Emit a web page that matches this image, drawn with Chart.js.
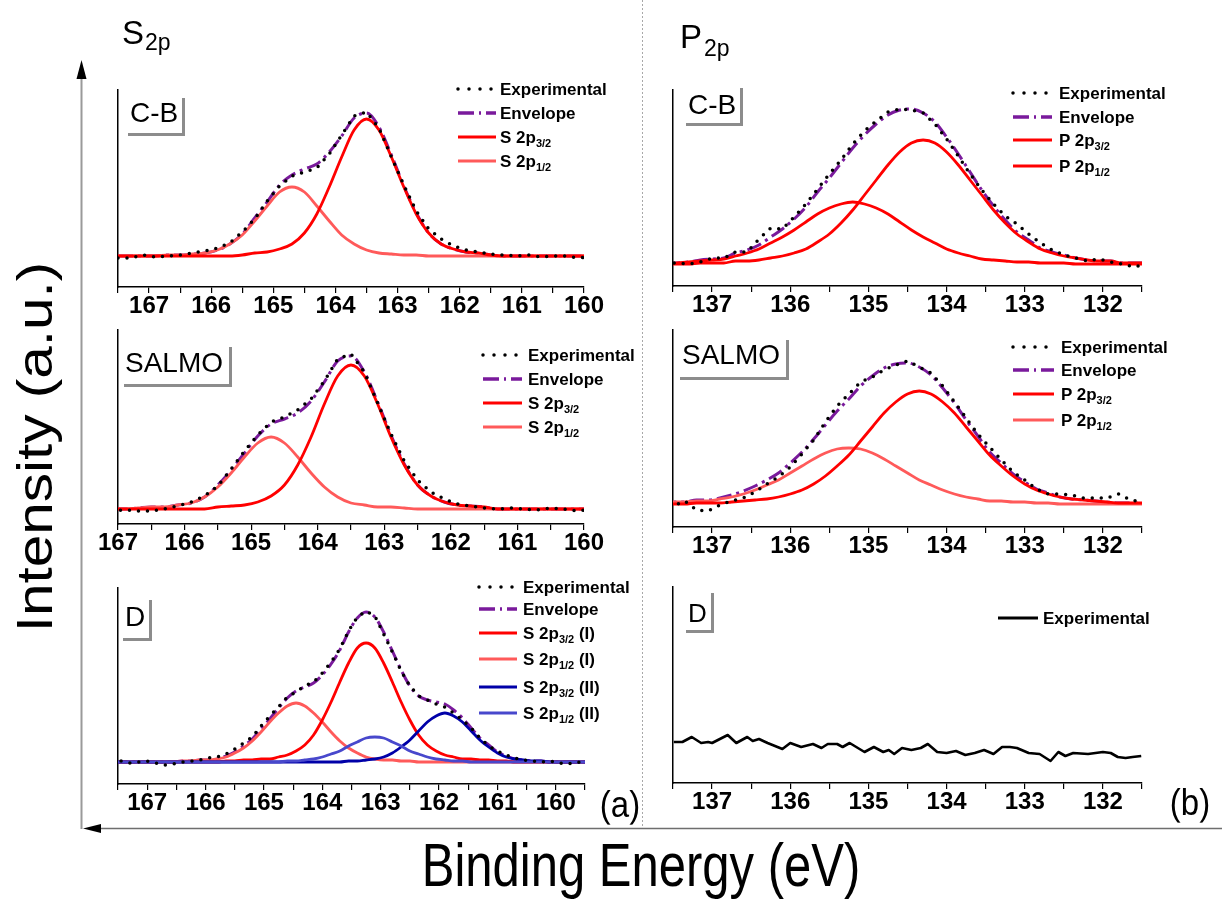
<!DOCTYPE html>
<html>
<head>
<meta charset="utf-8">
<script src="https://cdn.jsdelivr.net/npm/chart.js@4.4.0/dist/chart.umd.min.js"></script>
<style>
  body { margin: 0; background: #fff; font-family: 'Liberation Sans', Arial, sans-serif; }
  #lienzo { position: relative; width: 1222px; height: 904px; overflow: hidden; background: #fff; }
  .txt { position: absolute; line-height: 1; white-space: nowrap; color: #000; }
  .caja { position: absolute; border-right: 3px solid #8c8c8c; border-bottom: 3px solid #8c8c8c; box-sizing: border-box; }
  .ley { position: absolute; font-size: 17px; font-weight: bold; line-height: 1; white-space: nowrap; color: #000; }
  .ley sub { font-size: 11px; vertical-align: -4px; line-height: 0; }
</style>
</head>
<body>
<div id="lienzo">
  <svg width="1222" height="904" style="position:absolute;left:0;top:0">
    <line x1="642.5" y1="0" x2="642.5" y2="827" stroke="#a8a8a8" stroke-width="1" stroke-dasharray="2 2"/>
    <line x1="81.5" y1="829" x2="81.5" y2="74" stroke="#9a9a9a" stroke-width="2"/>
    <polygon points="81.5,60 76.5,79 86.5,79" fill="#000"/>
    <line x1="96" y1="828.5" x2="1222" y2="828.5" stroke="#6e6e6e" stroke-width="1.5"/>
    <polygon points="83,828.5 101,824 101,833" fill="#000"/>
  </svg>
</div>
<script>
// ---- S 2p : energias de enlace (eV) ----
const energiaS = [167.5,167.3,167.1,166.9,166.7,166.5,166.3,166.1,165.9,165.7,165.5,165.3,165.1,164.9,164.7,164.5,164.3,164.1,163.9,163.7,163.5,163.3,163.1,162.9,162.7,162.5,162.3,162.1,161.9,161.7,161.5,161.3,161.1,160.9,160.7,160.5,160.3,160.1,159.9];
const energiaSD = [167.6,167.45,167.3,167.15,167.0,166.85,166.7,166.55,166.4,166.25,166.1,165.95,165.8,165.65,165.5,165.35,165.2,165.05,164.9,164.75,164.6,164.45,164.3,164.15,164.0,163.85,163.7,163.55,163.4,163.25,163.1,162.95,162.8,162.65,162.5,162.35,162.2,162.05,161.9,161.75,161.6,161.45,161.3,161.15,161.0,160.85,160.7,160.55,160.4,160.25,160.1,159.95,159.8,159.65,159.5];

// C-B
const expCB_S = [-2,-2,1,-1,0,1,3,5,8,13,24,37,55,70,80,84,88,102,121,140,144,128,99,71,45,27,17,10,6,4,2,1,0,1,-1,0,0,-2,-1];
const envCB_S = [0,0,0,0,1,1,2,3,6,12,22,38,54,71,81,87,92,104,120,138,143,129,101,70,43,23,12,7,4,3,1,0,0,0,0,0,0,0,0];
const s32CB = [0,0,0,0,0,0,0,0,0,0,1,3,4,7,12,23,42,69,99,126,137,126,99,69,42,23,12,7,4,3,1,0,0,0,0,0,0,0,0];
const s12CB = [0,0,0,0,1,1,2,3,6,12,21,35,50,64,69,64,50,35,21,12,6,3,2,1,1,0,0,0,0,0,0,0,0,0,0,0,0,0,0];

// SALMO
const expSALMO_S = [-1,0,-2,-1,-2,-2,0,3,7,13,23,40,58,74,87,92,99,110,128,150,155,137,106,75,48,29,17,10,5,3,1,0,1,0,-1,1,0,-2,0];
const envSALMO_S = [0,0,0,0,1,2,2,4,6,12,24,39,56,73,85,90,96,108,127,148,153,137,107,74,45,24,13,7,4,3,2,0,0,0,0,0,0,0,0];
const s32SALMO = [0,0,0,0,0,0,0,0,0,0,2,3,4,7,13,24,44,72,105,133,144,133,105,72,44,24,13,7,4,3,2,0,0,0,0,0,0,0,0];
const s12SALMO = [0,0,0,0,1,2,2,4,6,12,22,36,52,66,72,66,52,36,22,12,6,4,2,2,1,0,0,0,0,0,0,0,0,0,0,0,0,0,0];

// D
const expD_S = [0,1,-1,0,1,-1,-3,-2,0,1,2,4,5,8,13,19,25,36,46,55,65,70,76,80,89,100,113,131,145,151,146,128,110,91,76,66,62,58,55,49,42,34,24,16,11,7,4,2,1,0,1,-1,-2,0,-1];
const envD_S = [0,0,0,0,0,0,0,0,1,1,2,2,3,6,10,16,23,33,43,54,64,71,75,79,87,98,112,130,144,150,145,130,111,92,76,66,62,60,58,52,44,34,24,17,10,6,3,2,1,1,0,0,0,0,0];
const s32I = [0,0,0,0,0,0,0,0,0,0,0,0,0,1,1,2,2,3,3,5,7,11,17,27,42,60,80,99,114,119,114,99,80,60,42,27,17,11,7,5,3,3,2,2,1,1,0,0,0,0,0,0,0,0,0];
const s12I = [0,0,0,0,0,0,0,0,1,1,2,2,3,5,9,14,21,30,40,49,56,59,56,49,40,30,21,14,9,5,3,2,2,1,1,0,0,0,0,0,0,0,0,0,0,0,0,0,0,0,0,0,0,0,0];
const s32II = [0,0,0,0,0,0,0,0,0,0,0,0,0,0,0,0,0,0,0,0,0,0,0,0,0,0,0,1,1,2,3,5,9,15,22,31,40,46,49,46,40,31,22,15,9,5,3,2,1,1,0,0,0,0,0];
const s12II = [0,0,0,0,0,0,0,0,0,0,0,0,0,0,0,0,0,0,0,0,1,1,2,3,5,8,11,16,20,24,25,24,20,16,11,8,5,3,2,1,1,0,0,0,0,0,0,0,0,0,0,0,0,0,0];

// ---- P 2p ----
const energiaPCB = [137.6,137.45,137.3,137.15,137.0,136.85,136.7,136.55,136.4,136.25,136.1,135.95,135.8,135.65,135.5,135.35,135.2,135.05,134.9,134.75,134.6,134.45,134.3,134.15,134.0,133.85,133.7,133.55,133.4,133.25,133.1,132.95,132.8,132.65,132.5,132.35,132.2,132.05,131.9,131.75,131.6,131.45];
const expCB_P = [1,1,0,2,6,6,12,12,25,36,35,47,60,75,90,104,120,133,143,152,155,154,151,140,125,108,90,74,60,48,40,30,21,14,9,6,3,5,2,0,-3,0];
const envCB_P = [0,1,2,4,5,6,11,14,19,27,35,45,57,72,86,101,116,129,140,149,154,155,151,142,127,110,92,74,58,44,32,24,16,12,9,6,4,3,3,1,1,1];
const p32CB = [0,0,0,1,1,1,3,3,4,6,8,11,15,22,30,41,54,69,84,99,112,121,124,121,112,99,84,69,54,41,30,22,15,11,8,6,4,3,3,1,1,1];
const p12CB = [0,1,2,3,4,5,8,11,15,21,27,34,42,50,56,60,62,60,56,50,42,34,27,21,15,11,8,5,4,3,2,2,1,1,1,0,0,0,0,0,0,0];

const energiaPSALMO = [137.65,137.5,137.35,137.2,137.05,136.9,136.75,136.6,136.45,136.3,136.15,136.0,135.85,135.7,135.55,135.4,135.25,135.1,134.95,134.8,134.65,134.5,134.35,134.2,134.05,133.9,133.75,133.6,133.45,133.3,133.15,133.0,132.85,132.7,132.55,132.4,132.25,132.1,131.95,131.8,131.65,131.5];
const expSALMO_P = [-5,-2,3,-6,-7,-1,3,6,12,20,27,37,50,64,82,98,110,122,127,134,139,143,137,131,118,102,86,70,57,44,32,24,15,10,10,9,6,6,6,10,4,2];
const envSALMO_P = [1,2,2,4,4,6,9,13,18,24,31,41,52,65,79,93,105,118,128,136,140,141,137,129,116,101,84,68,52,41,30,22,15,11,7,5,4,3,2,1,1,1];
const p32SALMO = [0,0,0,1,1,1,2,3,4,5,7,10,14,20,28,38,49,63,77,91,102,110,113,110,102,91,77,63,49,38,28,20,14,10,7,5,4,3,2,1,1,1];
const p12SALMO = [1,2,2,3,3,5,7,10,14,19,24,31,38,45,51,55,56,55,51,45,38,31,24,19,14,10,7,5,3,3,2,2,1,1,0,0,0,0,0,0,0,0];

const energiaPD = [137.49,137.38,137.26,137.14,137.05,137.0,136.8,136.69,136.55,136.48,136.4,136.29,136.1,136.0,135.86,135.71,135.6,135.52,135.4,135.33,135.24,135.05,134.93,134.81,134.74,134.67,134.57,134.45,134.33,134.24,134.12,134.0,133.88,133.76,133.64,133.52,133.4,133.29,133.19,133.1,132.95,132.81,132.67,132.57,132.48,132.38,132.19,132.0,131.9,131.81,131.71,131.62,131.51];
const expD_P = [41,41,46,40,41,40,48,40,46,42,44,40,34,40,36,39,35,39,39,36,40,31,36,31,33,29,35,33,35,39,31,30,32,28,30,33,29,36,36,35,30,29,22,31,27,30,29,31,30,26,25,26,27];

// colores
const ROJO = '#ff0000';
const ROSA = '#ff5a5a';
const MORADO = '#7a1a9c';
const AZUL = '#0000a8';
const AZUL_CLARO = '#4848cc';
const FUENTE = "'Liberation Sans', Arial, sans-serif";

Chart.defaults.font.family = FUENTE;

const lienzo = document.getElementById('lienzo');

function puntos(energia, valores) {
  return energia.map((e, i) => ({ x: e, y: valores[i] }));
}

function lineaExp(energia, valores) {
  return { data: puntos(energia, valores), borderColor: '#000', borderWidth: 3.5,
    borderDash: [0, 9], borderCapStyle: 'round', tension: 0 };
}
function lineaEnv(energia, valores) {
  return { data: puntos(energia, valores), borderColor: MORADO, borderWidth: 3,
    borderDash: [15, 5, 3, 5], cubicInterpolationMode: 'monotone' };
}
function lineaPico(energia, valores, color) {
  return { data: puntos(energia, valores), borderColor: color, borderWidth: 2.8,
    cubicInterpolationMode: 'monotone', borderJoinStyle: 'round' };
}

// Crear un panel: r = area del grafico en la pagina
function crearPanel(r, xMin, xMax, yMin, yMax, datasets) {
  const canvas = document.createElement('canvas');
  const w = (r.der - r.izq) + 60;
  const h = (r.abajo - r.arriba) + 50;
  canvas.width = w;
  canvas.height = h;
  canvas.style.cssText = 'position:absolute;left:' + (r.izq - 30) + 'px;top:' + (r.arriba - 10) + 'px;width:' + w + 'px;height:' + h + 'px';
  lienzo.appendChild(canvas);

  new Chart(canvas.getContext('2d'), {
    type: 'line',
    data: { datasets: datasets },
    options: {
      responsive: false,
      animation: false,
      devicePixelRatio: 1,
      layout: { padding: { left: 30, right: 30, top: 10, bottom: 4 } },
      plugins: { legend: { display: false }, tooltip: { enabled: false } },
      elements: { point: { radius: 0 } },
      scales: {
        x: {
          type: 'linear', reverse: true, min: xMin, max: xMax,
          border: { display: true, color: '#000', width: 1.5 },
          grid: { display: true, drawOnChartArea: false, drawTicks: true, tickLength: 6, color: '#000', lineWidth: 1.2 },
          ticks: {
            stepSize: 0.5, autoSkip: false, maxRotation: 0, padding: 1, color: '#000',
            font: { family: FUENTE, size: 24, weight: 'bold', lineHeight: 1 },
            callback: v => Math.abs(v - Math.round(v)) < 0.01 ? Math.round(v) : ''
          },
          afterFit: s => { s.height = 36; }
        },
        y: {
          min: yMin, max: yMax,
          border: { display: true, color: '#000', width: 1.5 },
          grid: { display: false },
          ticks: { display: false },
          afterFit: s => { s.width = 0; }
        }
      }
    }
  });
}

// Texto absoluto
function texto(html, left, top, size, extra) {
  const d = document.createElement('div');
  d.className = 'txt';
  d.style.cssText = 'left:' + left + 'px;top:' + top + 'px;font-size:' + size + 'px;' + (extra || '');
  d.innerHTML = html;
  lienzo.appendChild(d);
  return d;
}

// Etiqueta de muestra con sombra gris
function etiqueta(t, x, capTop, tam, caja) {
  const c = document.createElement('div');
  c.className = 'caja';
  c.style.cssText = 'left:' + caja[0] + 'px;top:' + caja[1] + 'px;width:' + (caja[2] - caja[0]) + 'px;height:' + (caja[3] - caja[1]) + 'px';
  lienzo.appendChild(c);
  texto(t, x, capTop - 0.13 * tam, tam);
}

// Leyenda dibujada a mano (por los subindices)
const estExp = { color: '#000', ancho: 3.5, guion: '0 11', cap: 'round' };
const estEnv = { color: MORADO, ancho: 3.5, guion: '16 5 2 5', cap: 'butt' };
function estSolido(color) { return { color: color, ancho: 3, guion: 'none', cap: 'butt' }; }

function leyenda(x0, x1, xTexto, filas) {
  filas.forEach(f => {
    const e = f.estilo;
    const s = document.createElementNS('http://www.w3.org/2000/svg', 'svg');
    s.setAttribute('width', x1 - x0);
    s.setAttribute('height', 12);
    s.style.cssText = 'position:absolute;left:' + x0 + 'px;top:' + (f.y - 6) + 'px';
    s.innerHTML = '<line x1="2" y1="6" x2="' + (x1 - x0 - 2) + '" y2="6" stroke="' + e.color + '" stroke-width="' + e.ancho +
      '" stroke-dasharray="' + e.guion + '" stroke-linecap="' + e.cap + '"/>';
    lienzo.appendChild(s);
    const d = document.createElement('div');
    d.className = 'ley';
    d.style.left = xTexto + 'px';
    d.style.top = (f.y - 8.5) + 'px';
    d.innerHTML = f.texto;
    lienzo.appendChild(d);
  });
}

// ---- Paneles S 2p (a) ----
crearPanel({ izq: 118, der: 584, arriba: 90, abajo: 287 }, 160, 167.5, -31, 166, [
  lineaExp(energiaS, expCB_S),
  lineaPico(energiaS, s32CB, ROJO),
  lineaPico(energiaS, s12CB, ROSA),
  lineaEnv(energiaS, envCB_S)
]);
crearPanel({ izq: 118, der: 584, arriba: 330, abajo: 524 }, 160, 167, -15, 179, [
  lineaExp(energiaS, expSALMO_S),
  lineaPico(energiaS, s32SALMO, ROJO),
  lineaPico(energiaS, s12SALMO, ROSA),
  lineaEnv(energiaS, envSALMO_S)
]);
crearPanel({ izq: 118, der: 585, arriba: 588, abajo: 784 }, 159.5, 167.5, -22, 174, [
  lineaExp(energiaSD, expD_S),
  lineaPico(energiaSD, s12II, AZUL_CLARO),
  lineaPico(energiaSD, s32II, AZUL),
  lineaPico(energiaSD, s32I, ROJO),
  lineaPico(energiaSD, s12I, ROSA),
  lineaEnv(energiaSD, envD_S)
]);

// ---- Paneles P 2p (b) ----
crearPanel({ izq: 673, der: 1142, arriba: 90, abajo: 286 }, 131.5, 137.5, -22, 174, [
  lineaExp(energiaPCB, expCB_P),
  lineaPico(energiaPCB, p32CB, ROJO),
  lineaPico(energiaPCB, p12CB, ROJO),
  lineaEnv(energiaPCB, envCB_P)
]);
crearPanel({ izq: 673, der: 1142, arriba: 330, abajo: 527 }, 131.5, 137.5, -23, 174, [
  lineaExp(energiaPSALMO, expSALMO_P),
  lineaPico(energiaPSALMO, p32SALMO, ROJO),
  lineaPico(energiaPSALMO, p12SALMO, ROSA),
  lineaEnv(energiaPSALMO, envSALMO_P)
]);
crearPanel({ izq: 673, der: 1142, arriba: 587, abajo: 783 }, 131.5, 137.5, 0, 196, [
  { data: puntos(energiaPD, expD_P), borderColor: '#000', borderWidth: 2.6, tension: 0, borderJoinStyle: 'round' }
]);

// ---- Leyendas ----
leyenda(456, 498, 500, [
  { y: 89, texto: 'Experimental', estilo: estExp },
  { y: 113, texto: 'Envelope', estilo: estEnv },
  { y: 137, texto: 'S 2p<sub>3/2</sub>', estilo: estSolido(ROJO) },
  { y: 161, texto: 'S 2p<sub>1/2</sub>', estilo: estSolido(ROSA) }
]);
leyenda(481, 524, 528, [
  { y: 355, texto: 'Experimental', estilo: estExp },
  { y: 379, texto: 'Envelope', estilo: estEnv },
  { y: 403, texto: 'S 2p<sub>3/2</sub>', estilo: estSolido(ROJO) },
  { y: 427, texto: 'S 2p<sub>1/2</sub>', estilo: estSolido(ROSA) }
]);
leyenda(477, 519, 523, [
  { y: 587, texto: 'Experimental', estilo: estExp },
  { y: 609, texto: 'Envelope', estilo: estEnv },
  { y: 633, texto: 'S 2p<sub>3/2</sub> (I)', estilo: estSolido(ROJO) },
  { y: 659, texto: 'S 2p<sub>1/2</sub> (I)', estilo: estSolido(ROSA) },
  { y: 687, texto: 'S 2p<sub>3/2</sub> (II)', estilo: estSolido(AZUL) },
  { y: 713, texto: 'S 2p<sub>1/2</sub> (II)', estilo: estSolido(AZUL_CLARO) }
]);
leyenda(1011, 1054, 1059, [
  { y: 93, texto: 'Experimental', estilo: estExp },
  { y: 117, texto: 'Envelope', estilo: estEnv },
  { y: 140, texto: 'P 2p<sub>3/2</sub>', estilo: estSolido(ROJO) },
  { y: 166, texto: 'P 2p<sub>1/2</sub>', estilo: estSolido(ROJO) }
]);
leyenda(1011, 1056, 1061, [
  { y: 347, texto: 'Experimental', estilo: estExp },
  { y: 370, texto: 'Envelope', estilo: estEnv },
  { y: 394, texto: 'P 2p<sub>3/2</sub>', estilo: estSolido(ROJO) },
  { y: 420, texto: 'P 2p<sub>1/2</sub>', estilo: estSolido(ROSA) }
]);
leyenda(996, 1040, 1043, [
  { y: 618, texto: 'Experimental', estilo: estSolido('#000') }
]);

// ---- Etiquetas de muestra ----
etiqueta('C-B', 130, 103, 28, [128, 98, 185, 136]);
etiqueta('SALMO', 125, 353, 28, [124, 347, 232, 387]);
etiqueta('D', 125, 607, 28, [123, 600, 152, 641]);
etiqueta('C-B', 688, 95, 28, [686, 88, 743, 126]);
etiqueta('SALMO', 682, 345, 28, [680, 340, 789, 380]);
etiqueta('D', 688, 603, 26, [686, 593, 714, 633]);

// ---- Titulos y ejes ----
texto('S', 122, 16, 33);
texto('2p', 145, 31, 23);
texto('P', 680, 20, 33);
texto('2p', 704, 37, 23);
texto('(a)', 620, 804, 33, 'transform:translate(-50%,-50%) scaleY(1.1)');
texto('(b)', 1190, 802, 33, 'transform:translate(-50%,-50%) scaleY(1.1)');
texto('Binding Energy (eV)', 641, 841, 49, 'transform:translateX(-50%) scaleY(1.25)');
texto('Intensity (a.u.)', 35, 447, 50, 'transform:translate(-50%,-50%) rotate(-90deg) scaleX(1.17)');
</script>
</body>
</html>
